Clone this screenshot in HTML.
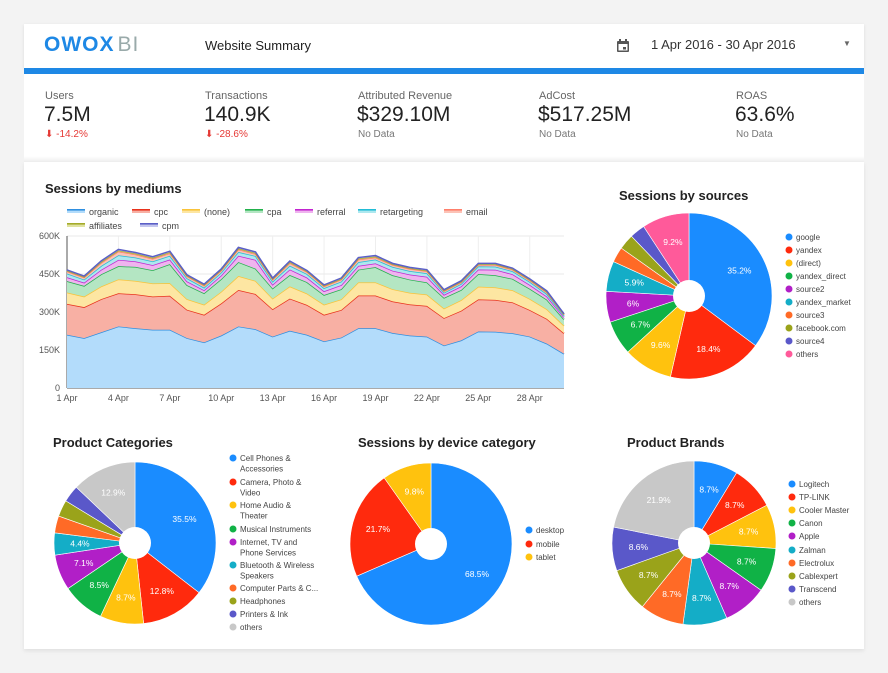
<!DOCTYPE html>
<html><head><meta charset="utf-8">
<style>
body{margin:0;width:888px;height:673px;background:#f3f3f3;font-family:"Liberation Sans",sans-serif;overflow:hidden;position:relative}
.abs{position:absolute;white-space:nowrap}
.card{position:absolute;background:#fff}
.lbl{font-size:11px;color:#666}
.val{font-size:21px;color:#222}
.sub{font-size:10px;color:#777}
.red{color:#e53935}
.title{font-size:13px;font-weight:bold;color:#222}
</style></head><body>
<div class="card" style="left:24px;top:24px;width:840px;height:44px;box-shadow:0 1px 3px rgba(0,0,0,.1)"></div>
<div class="abs" style="left:44px;top:33px;font-size:21px;font-weight:bold;color:#1e88e5;letter-spacing:1px">OWOX<span style="font-weight:normal;color:#9aa;margin-left:3px">BI</span></div>
<div class="abs" style="left:205px;top:38px;font-size:13px;color:#222">Website Summary</div>
<svg class="abs" style="left:616px;top:39px" width="14" height="14"><rect x="1" y="2" width="12" height="11" rx="1" fill="#555"/><rect x="2.5" y="5" width="9" height="6.5" fill="#fff"/><rect x="7" y="8" width="3" height="2.5" fill="#555"/><rect x="3" y="0" width="2" height="3" fill="#555"/><rect x="9" y="0" width="2" height="3" fill="#555"/></svg>
<div class="abs" style="left:651px;top:37px;font-size:13px;color:#333">1 Apr 2016 - 30 Apr 2016</div>
<div class="abs" style="left:843px;top:39px;font-size:8px;color:#666">▼</div>
<div class="card" style="left:24px;top:68px;width:840px;height:6px;background:#1e88e5"></div>
<div class="card" style="left:24px;top:74px;width:840px;height:82px"></div>
<div class="card" style="left:24px;top:156px;width:840px;height:6px;background:linear-gradient(#fff,#eee)"></div>

<div class="abs lbl" style="left:45px;top:90px">Users</div>
<div class="abs val" style="left:44px;top:103px">7.5M</div>
<div class="abs sub red" style="left:45px;top:129px">⬇ -14.2%</div>
<div class="abs lbl" style="left:205px;top:90px">Transactions</div>
<div class="abs val" style="left:204px;top:103px">140.9K</div>
<div class="abs sub red" style="left:205px;top:129px">⬇ -28.6%</div>
<div class="abs lbl" style="left:358px;top:90px">Attributed Revenue</div>
<div class="abs val" style="left:357px;top:103px">$329.10M</div>
<div class="abs sub" style="left:358px;top:129px">No Data</div>
<div class="abs lbl" style="left:539px;top:90px">AdCost</div>
<div class="abs val" style="left:538px;top:103px">$517.25M</div>
<div class="abs sub" style="left:539px;top:129px">No Data</div>
<div class="abs lbl" style="left:736px;top:90px">ROAS</div>
<div class="abs val" style="left:735px;top:103px">63.6%</div>
<div class="abs sub" style="left:736px;top:129px">No Data</div>

<div class="card" style="left:24px;top:162px;width:840px;height:487px;box-shadow:0 2px 4px rgba(0,0,0,.08)"></div>

<div class="abs title" style="left:45px;top:181px">Sessions by mediums</div>
<div class="abs title" style="left:619px;top:188px">Sessions by sources</div>
<div class="abs title" style="left:53px;top:435px">Product Categories</div>
<div class="abs title" style="left:358px;top:435px">Sessions by device category</div>
<div class="abs title" style="left:627px;top:435px">Product Brands</div>

<svg id="main" class="abs" style="left:0;top:0" width="888" height="673"></svg>

<script>
const days=["1 Apr","4 Apr","7 Apr","10 Apr","13 Apr","16 Apr","19 Apr","22 Apr","25 Apr","28 Apr"];
const yTicks=[0,150,300,450,600];
const yTickLabels=["0","150K","300K","450K","600K"];
const organic=[210,197,220,243,236,230,230,197,180,207,243,232,203,226,210,184,199,236,236,217,207,203,168,188,223,222,216,203,175,135];
const cpc=[122,122,131,131,134,131,134,112,109,127,144,139,108,127,118,105,109,129,129,125,123,121,108,117,127,126,122,105,98,81];
const none=[45,42,50,55,53,52,50,42,40,46,55,52,42,48,45,40,42,52,52,48,46,45,38,42,50,49,48,44,38,30];
const cpa=[45,42,48,52,55,52,75,55,45,50,55,48,40,45,45,38,40,50,60,55,52,48,42,40,50,48,45,40,38,25];
const referral=[15,13,18,25,22,20,18,15,12,14,25,35,15,22,18,15,16,15,15,18,20,22,12,14,18,22,18,15,12,8];
const retargeting=[15,12,15,18,15,15,15,12,10,12,15,15,12,15,14,12,14,15,15,15,14,14,8,10,12,12,12,12,10,6];
const email=[8,8,12,15,12,10,10,8,8,8,10,8,8,10,8,7,8,10,8,8,8,8,6,6,6,7,6,6,6,4];
const affiliates=[3,3,4,4,4,4,4,3,3,3,4,4,3,4,3,3,3,4,4,3,3,3,3,3,3,3,3,3,3,2];
const cpm=[3,3,4,4,4,4,4,3,3,3,4,4,3,4,3,3,3,4,4,3,3,3,3,3,3,3,3,3,3,2];
const seriesNames=["organic","cpc","(none)","cpa","referral","retargeting","email","affiliates","cpm"];

const srcLabels=["google","yandex","(direct)","yandex_direct","source2","yandex_market","source3","facebook.com","source4","others"];
const srcValues=[35.2,18.4,9.6,6.7,6,5.9,3,3,3,9.2];
const catLabels=[["Cell Phones &","Accessories"],["Camera, Photo &","Video"],["Home Audio &","Theater"],["Musical Instruments"],["Internet, TV and","Phone Services"],["Bluetooth & Wireless","Speakers"],["Computer Parts & C..."],["Headphones"],["Printers & Ink"],["others"]];
const catValues=[35.5,12.8,8.7,8.5,7.1,4.4,3.4,3.3,3.4,12.9];
const devLabels=["desktop","mobile","tablet"];
const devValues=[68.5,21.7,9.8];
const brandLabels=["Logitech","TP-LINK","Cooler Master","Canon","Apple","Zalman","Electrolux","Cablexpert","Transcend","others"];
const brandValues=[8.7,8.7,8.7,8.7,8.7,8.7,8.7,8.7,8.6,21.9];

const NS="http://www.w3.org/2000/svg";
const svg=document.getElementById('main');
function mk(tag,attrs,parent){const e=document.createElementNS(NS,tag);for(const k in attrs)e.setAttribute(k,attrs[k]);(parent||svg).appendChild(e);return e;}

// area chart
const X0=67,X1=564,Y0=388,Y1=236;
const xs=i=>X0+i*(X1-X0)/29;
const ys=v=>Y0-v/600*(Y0-Y1);
const grid=mk('g',{});


yTicks.forEach((t,i)=>{
  mk('line',{x1:X0,x2:X1,y1:ys(t),y2:ys(t),stroke:'#e8e8e8'},grid);
  const tx=mk('text',{x:X0-7,y:ys(t)+3,'text-anchor':'end','font-size':9,fill:'#555'});
  tx.textContent=yTickLabels[i];
  
  
});
days.forEach((d,i)=>{
  const x=xs(i*3);
  mk('line',{x1:x,x2:x,y1:Y1,y2:Y0,stroke:'#eee'},grid);
  const tx=mk('text',{x:x,y:Y0+13,'text-anchor':'middle','font-size':9,fill:'#555'});
  tx.textContent=d;
  
  
});
mk('line',{x1:X0,x2:X0,y1:Y1,y2:Y0,stroke:'#555'});
mk('line',{x1:X0,x2:X1,y1:Y0,y2:Y0,stroke:'#555'});
const stacks=[organic,cpc,none,cpa,referral,retargeting,email,affiliates,cpm];
const lineCols=['#2f8fe0','#e8321c','#f9c33a','#22b14c','#c224d0','#22bcd6','#ff7f6b','#a4ab2a','#5b5fc7'];
const fillCols=['#b3dcfb','#f8b0a4','#fde6a2','#b4e6c3','#efb4ef','#aee8ef','#fcc3b7','#dfe2a0','#c4c6ee'];
let base=new Array(30).fill(0);
stacks.forEach((s,k)=>{
  const top=s.map((v,i)=>base[i]+v);
  let d='M'+top.map((v,i)=>xs(i)+','+ys(v)).join('L');
  const line=d;
  for(let i=29;i>=0;i--)d+='L'+xs(i)+','+ys(base[i]);
  d+='Z';
  const a=mk('path',{d:d,fill:fillCols[k]});
  
  
  mk('path',{d:line,fill:'none',stroke:lineCols[k],'stroke-width':1.5});
  base=top;
});
// legend
const legPos=[[67,212],[132,212],[182,212],[245,212],[295,212],[358,212],[444,212],[67,226],[140,226]];
seriesNames.forEach((n,k)=>{
  const g=mk('g',{});
  
  
  const [x,y]=legPos[k];
  mk('rect',{x:x,y:y-3,width:18,height:4,fill:fillCols[k]},g);
  mk('rect',{x:x,y:y-3,width:18,height:1.6,fill:lineCols[k]},g);
  const t=mk('text',{x:x+22,y:y+3,'font-size':9,fill:'#444'},g);t.textContent=n;
});

// pies
const pieCols=['#1a8cff','#ff2a0d','#ffc20e','#10b246','#b11fc7','#14adc7','#ff6a26','#9aa31a','#5a58c9','#ff5a9a'];
const catCols=['#1a8cff','#ff2a0d','#ffc20e','#10b246','#b11fc7','#14adc7','#ff6a26','#9aa31a','#5a58c9','#c8c8c8'];
function pie(name,vals,cols,cx,cy,r,hole){
  const g=mk('g',{});
  
  
  const tot=vals.reduce((a,b)=>a+b,0);
  let a0=-Math.PI/2;
  vals.forEach((v,i)=>{
    const a1=a0+v/tot*2*Math.PI;
    const large=(a1-a0)>Math.PI?1:0;
    const p=mk('path',{d:`M${cx},${cy}L${cx+r*Math.cos(a0)},${cy+r*Math.sin(a0)}A${r},${r} 0 ${large} 1 ${cx+r*Math.cos(a1)},${cy+r*Math.sin(a1)}Z`,fill:cols[i],stroke:'#fff','stroke-width':0.6},g);
    
    
    if(v/tot>=0.04){
      const am=(a0+a1)/2,lr=r*0.68;
      const t=mk('text',{x:cx+lr*Math.cos(am),y:cy+lr*Math.sin(am)+3,'text-anchor':'middle','font-size':8.5,fill:'#fff'},g);
      t.textContent=(Math.round(v*10)/10)+'%';
    }
    a0=a1;
  });
  mk('circle',{cx:cx,cy:cy,r:hole,fill:'#fff'},g);
}
function legend(name,labels,cols,x,ys){
  labels.forEach((l,i)=>{
    const g=mk('g',{});
    
    
    const lines=Array.isArray(l)?l:[l];
    mk('circle',{cx:x,cy:ys[i],r:3.5,fill:cols[i]},g);
    lines.forEach((s,j)=>{const t=mk('text',{x:x+7,y:ys[i]+3+j*10.5,'font-size':8,fill:'#444'},g);t.textContent=s;});
  });
}
pie('sources-pie',srcValues,pieCols,689,296,83,16);
legend('sources',srcLabels,pieCols,789,[237,250,263,276,289,302,315,328,341,354]);
pie('categories-pie',catValues,catCols,135,543,81,16);
legend('categories',catLabels,catCols,233,[458,482,505,529,542,565,588,601,614,627]);
pie('device-pie',devValues,pieCols,431,544,81,16);
legend('device',devLabels,pieCols,529,[530,544,557]);
pie('brands-pie',brandValues,catCols,694,543,82,16);
legend('brands',brandLabels,catCols,792,[484,497,510,523,536,550,563,576,589,602]);
</script>
</body></html>
